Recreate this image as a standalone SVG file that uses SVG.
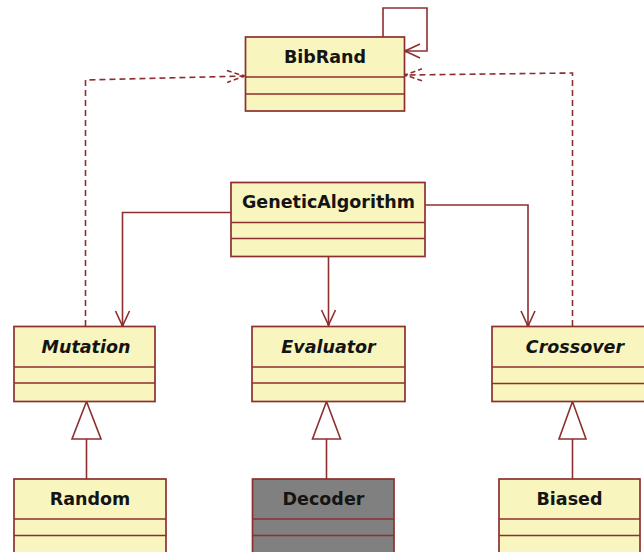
<svg xmlns="http://www.w3.org/2000/svg" width="644" height="552" viewBox="0 0 644 552">
<style>
.box{fill:#F9F5BE;stroke:#8E2F2F;stroke-width:1.7}
.gray{fill:#808080;stroke:#8E2F2F;stroke-width:1.7}
.div{stroke:#8E2F2F;stroke-width:1.7;fill:none}
.lbl{font-family:"DejaVu Sans",Verdana,sans-serif;font-weight:bold;font-size:17.5px;fill:#141414;text-anchor:middle}
.it{font-style:italic}
.ln{fill:none;stroke:#8E2F2F;stroke-width:1.6}
.dash{stroke-dasharray:6,4}
.tri{fill:#ffffff;stroke:#8E2F2F;stroke-width:1.6}
</style>
<defs>
<marker id="open" markerUnits="userSpaceOnUse" markerWidth="20" markerHeight="20" viewBox="-17 -10 20 20" refX="0" refY="0" orient="auto" overflow="visible">
<path d="M-15,-7 L0,0 L-15,7" fill="none" stroke="#8E2F2F" stroke-width="1.6"/>
<circle cx="-1" cy="0" r="1.6" fill="#8E2F2F"/>
</marker>
<marker id="openDash" markerUnits="userSpaceOnUse" markerWidth="20" markerHeight="20" viewBox="-17 -10 20 20" refX="0" refY="0" orient="auto" overflow="visible">
<path d="M-17,-6 L0,0 L-17,6" fill="none" stroke="#8E2F2F" stroke-width="1.6" stroke-dasharray="5,3"/>
<circle cx="-1" cy="0" r="1.6" fill="#8E2F2F"/>
</marker>
</defs>

<g id="connectors">
<path class="ln" d="M383,37 V8 H427 V51 H405" marker-end="url(#open)"/>
<path class="ln dash" d="M85.5,326 V80 L244,76" marker-end="url(#openDash)"/>
<path class="ln dash" d="M572.5,326 V73 L405,75" marker-end="url(#openDash)"/>
<path class="ln" d="M231,212.5 H122.5 V326" marker-end="url(#open)"/>
<path class="ln" d="M328.5,257 V325" marker-end="url(#open)"/>
<path class="ln" d="M425,205 H528 V326" marker-end="url(#open)"/>
<path class="ln" d="M86.5,439 V479"/>
<polygon class="tri" points="86.5,401.5 72,439 101,439"/>
<path class="ln" d="M326.5,439 V479"/>
<polygon class="tri" points="326.5,401.5 312.5,439 340.5,439"/>
<path class="ln" d="M572.5,439 V479"/>
<polygon class="tri" points="572.5,401.5 559,439 586,439"/>
</g>

<g id="BibRand">
<rect class="box" x="245.5" y="37" width="159" height="74"/>
<path class="div" d="M245.5,77 H404.5 M245.5,94 H404.5"/>
<text class="lbl" x="325" y="63">BibRand</text>
</g>

<g id="GeneticAlgorithm">
<rect class="box" x="231" y="182.5" width="194" height="74"/>
<path class="div" d="M231,222.5 H425 M231,238.5 H425"/>
<text class="lbl" x="328.5" y="207.5">GeneticAlgorithm</text>
</g>

<g id="Mutation">
<rect class="box" x="14" y="326.5" width="141" height="75"/>
<path class="div" d="M14,367 H155 M14,383 H155"/>
<text class="lbl it" x="86" y="352.5">Mutation</text>
</g>

<g id="Evaluator">
<rect class="box" x="252" y="326.5" width="153" height="75"/>
<path class="div" d="M252,367 H405 M252,383 H405"/>
<text class="lbl it" x="328.5" y="352.5">Evaluator</text>
</g>

<g id="Crossover">
<rect class="box" x="492" y="326.5" width="168" height="75"/>
<path class="div" d="M492,367 H660 M492,383.5 H660"/>
<text class="lbl it" x="575" y="352.5">Crossover</text>
</g>

<g id="Random">
<rect class="box" x="14" y="479" width="152" height="90"/>
<path class="div" d="M14,519 H166 M14,535.5 H166"/>
<text class="lbl" x="90" y="504.5">Random</text>
</g>

<g id="Decoder">
<rect class="gray" x="252.5" y="479" width="141.5" height="90"/>
<path class="div" d="M252.5,519 H394 M252.5,535.5 H394"/>
<text class="lbl" x="323.5" y="504.5">Decoder</text>
</g>

<g id="Biased">
<rect class="box" x="499" y="479" width="141" height="90"/>
<path class="div" d="M499,519 H640 M499,535.5 H640"/>
<text class="lbl" x="569.5" y="504.5">Biased</text>
</g>
</svg>
